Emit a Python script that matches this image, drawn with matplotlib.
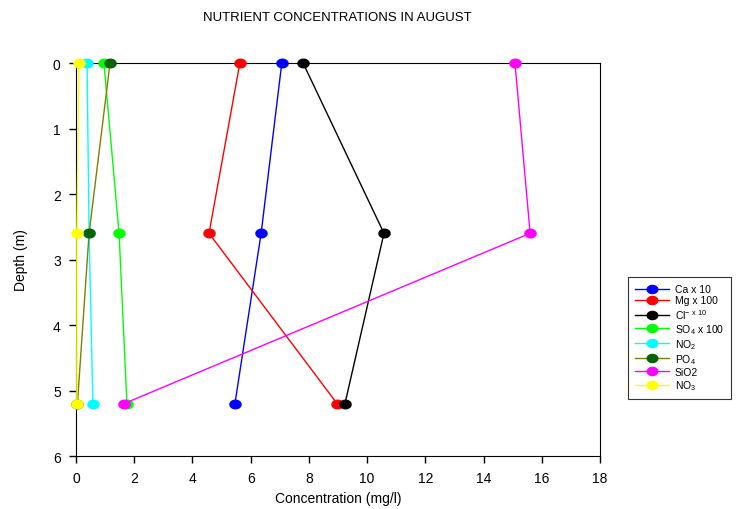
import matplotlib
matplotlib.use("Agg")
import matplotlib.pyplot as plt
import numpy as np
from matplotlib.path import Path

plt.rcParams['font.family'] = ['Liberation Sans', 'DejaVu Sans']
plt.rcParams['mathtext.default'] = 'regular'

depth = [0.0, 2.6, 5.2]
series_labels = ["Ca x 10", "Mg x 100", r"Cl$^{-\ x\ 10}$", r"SO$_4$ x 100",
                 r"NO$_2$", r"PO$_4$", "SiO2", r"NO$_3$"]
ca = [7.07, 6.36, 5.46]
mg = [5.63, 4.57, 8.97]
cl = [7.80, 10.58, 9.24]
so4 = [0.96, 1.48, 1.75]
no2 = [0.38, 0.45, 0.58]
po4 = [1.17, 0.45, 0.05]
sio2 = [15.08, 15.60, 1.65]
no3 = [0.10, 0.03, 0.03]
x_ticks = list(range(0, 19, 2))
y_ticks = list(range(0, 7))

series = [ca, mg, cl, so4, no2, po4, sio2, no3]
line_colors = ["#0000ff", "#ff0000", "#000000", "#00ff00", "#00ffff", "#808000", "#ff00ff", "#ffff00"]
marker_colors = ["#0000ff", "#ff0000", "#000000", "#00ff00", "#00ffff", "#006400", "#ff00ff", "#ffff00"]

t = np.linspace(0, 2 * np.pi, 60)
ell = Path(np.column_stack([1.3 * np.cos(t), np.sin(t)]), closed=True)

fig = plt.figure(figsize=(7.42, 5.10), dpi=100)
ax = fig.add_axes([0.1024, 0.1039, 0.7062, 0.7706])

for vals, lab, lc, mc in zip(series, series_labels, line_colors, marker_colors):
    ax.plot(vals, depth, color=lc, lw=1, marker=ell, markersize=8,
            markerfacecolor=mc, markeredgecolor=mc, label=lab, clip_on=False, zorder=3)

ax.set_xlim(0, 18)
ax.set_ylim(6, 0)
ax.set_xticks(x_ticks)
ax.set_yticks(y_ticks)
ax.tick_params(direction='out', length=5, width=1, labelsize=10, pad=6)
ax.set_xlabel("Concentration (mg/l)", fontsize=10)
ax.set_ylabel("Depth (m)", fontsize=10, labelpad=18,
              family=['Liberation Sans Narrow', 'Liberation Sans'])
fig.text(0.455, 0.965, "NUTRIENT CONCENTRATIONS IN AUGUST", ha='center', va='center', fontsize=9.5)

leg = fig.legend(loc='upper left', bbox_to_anchor=(0.846, 0.455), fontsize=7.5,
                 frameon=True, fancybox=False, edgecolor='black', borderpad=0.7,
                 borderaxespad=0, handlelength=3.3, labelspacing=0.12,
                 markerscale=0.95, handletextpad=0.5)
leg.get_frame().set_linewidth(0.8)

fig.savefig("out.png", dpi=100)
